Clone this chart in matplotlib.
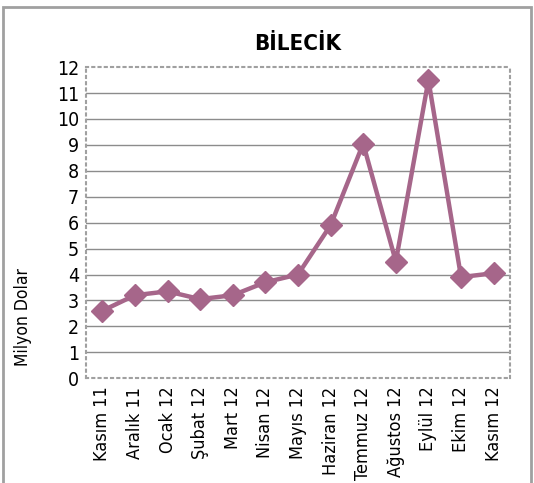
import matplotlib.pyplot as plt
from matplotlib.patches import Rectangle

plt.rcParams['font.family'] = ['DejaVu Sans']
plt.rcParams['font.stretch'] = 'condensed'

months = ['Kasım 11', 'Aralık 11', 'Ocak 12', 'Şubat 12', 'Mart 12', 'Nisan 12',
          'Mayıs 12', 'Haziran 12', 'Temmuz 12', 'Ağustos 12', 'Eylül 12',
          'Ekim 12', 'Kasım 12']
values = [2.6, 3.2, 3.35, 3.05, 3.2, 3.7, 4.0, 5.9, 9.05, 4.5, 11.5, 3.9, 4.05]
yticks = list(range(0, 13))

line_color = '#A6668A'

fig = plt.figure(figsize=(5.34, 4.83), dpi=100)
ax = fig.add_axes([0.161, 0.217, 0.794, 0.644])

# outer frame
fig.patches.append(Rectangle((0.006, -0.01), 0.988, 0.996, transform=fig.transFigure,
                             fill=False, edgecolor='#a0a0a0', linewidth=2))

ax.plot(range(len(months)), values, color=line_color, linewidth=3.2,
        marker='D', markersize=11, markerfacecolor=line_color,
        markeredgecolor=line_color, zorder=3)

ax.set_xlim(-0.5, len(months) - 0.5)
ax.set_ylim(0, 12)
ax.set_yticks(yticks)
ax.set_xticks(range(len(months)))
ax.set_xticklabels(months, rotation=90, fontsize=13)
ax.tick_params(axis='y', labelsize=14, length=0, pad=5)
ax.tick_params(axis='x', length=0, pad=6)

for y in yticks[1:-1]:
    ax.axhline(y, color='#8c8c8c', linewidth=1, zorder=1)

for side in ax.spines.values():
    side.set_linestyle((0, (1, 2)))
    side.set_color('#a0a0a0')
    side.set_linewidth(1.5)

ax.set_ylabel('Milyon Dolar', fontsize=12.5)
ax.yaxis.set_label_coords(-0.128, 0.196)
ax.set_title('BİLECİK', fontsize=16, fontweight='bold', pad=12)

fig.savefig('out.png', dpi=100)
